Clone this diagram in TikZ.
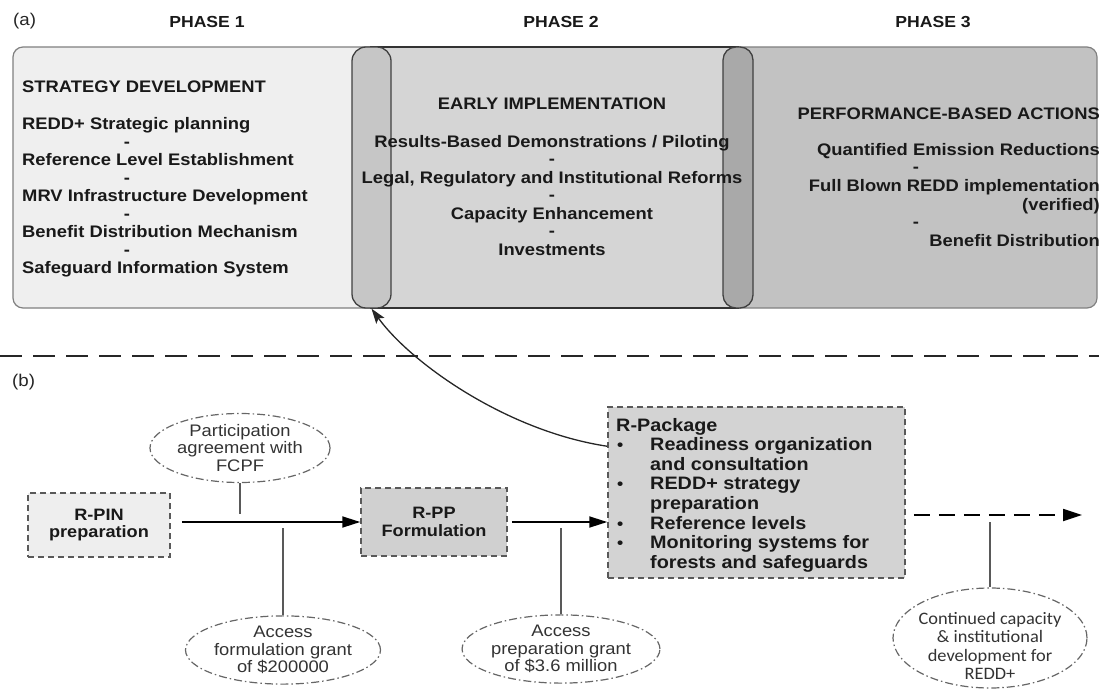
\documentclass[tikz,border=0pt]{standalone}
\usepackage{fontspec}
\setmainfont{Liberation Sans}[FakeStretch=1.1]
\newfontfamily\calfont{Carlito}[FakeStretch=1.05]
\usetikzlibrary{shapes.geometric,arrows.meta}
\definecolor{pone}{HTML}{EFEFEF}
\definecolor{ptwo}{HTML}{D5D5D5}
\definecolor{pthree}{HTML}{C2C2C2}
\definecolor{pillA}{HTML}{C6C6C6}
\definecolor{pillB}{HTML}{A9A9A9}
\definecolor{boxA}{HTML}{EEEEEE}
\definecolor{boxB}{HTML}{D0D0D0}
\definecolor{boxC}{HTML}{D3D3D3}
\begin{document}
\begin{tikzpicture}[x=1pt,y=-1pt,
  panel/.style={draw=black!50, line width=1.2pt, rounded corners=10pt, inner sep=0},
  pill/.style={draw=black!75, line width=1.3pt, rounded corners=14pt, inner sep=0, minimum height=261pt},
  t/.style={inner sep=0, font=\bfseries\fontsize{16.7}{18}\selectfont, text=black!90},
  lab/.style={inner sep=0, font=\fontsize{17}{18}\selectfont, text=black!85},
  phase/.style={inner sep=0, font=\bfseries\fontsize{16}{18}\selectfont, text=black!90},
  dbox/.style={draw=black!65, line width=1.5pt, dash pattern=on 6pt off 4pt, inner sep=0,
    align=center, font=\bfseries\fontsize{16.5}{17.5}\selectfont, text=black!90},
  rp/.style={inner sep=0, anchor=base west, font=\bfseries\fontsize{18}{20}\selectfont, text=black!90},
  bul/.style={inner sep=0, anchor=base west, font=\bfseries\fontsize{16}{20}\selectfont, text=black!90},
  ell/.style={ellipse, draw=black!60, line width=1.2pt, dash pattern=on 8pt off 3pt on 1.5pt off 3pt,
    inner sep=0, align=center, font=\fontsize{16.7}{17.8}\selectfont, text=black!80},
  arr/.style={line width=1.8pt, -{Triangle[length=18pt,width=11pt]}},
  tick/.style={draw=black!65, line width=1.5pt}
]
\useasboundingbox (0,0) rectangle (1099,690);

% ---------- panel (a) ----------
\node[panel, fill=pthree, minimum width=397pt, minimum height=261pt] (ph3) at (898.5,177.5) {};
\node[panel, fill=pone, minimum width=387pt, minimum height=261pt] (ph1) at (206.5,177.5) {};
\node[draw=black!80, line width=1.5pt, fill=ptwo, inner sep=0, minimum width=367pt, minimum height=261pt] (ph2) at (554.5,177.5) {};
\node[pill, fill=pillA, minimum width=39pt] (lpill) at (371.5,177.5) {};
\node[pill, fill=pillB, minimum width=30pt, rounded corners=13pt] (rpill) at (738,177.5) {};

\node[lab, anchor=base west] (la) at (13,26) {(a)};
\node[phase, anchor=base] (h1) at (207,28) {PHASE 1};
\node[phase, anchor=base] (h2) at (561,28) {PHASE 2};
\node[phase, anchor=base] (h3) at (933,28) {PHASE 3};

% phase 1 text
\node[t, anchor=base west] (s1) at (22,93) {STRATEGY DEVELOPMENT};
\node[t, anchor=base west] (s2) at (22,129) {REDD+ Strategic planning};
\node[t, anchor=base west] (s3) at (22,165) {Reference Level Establishment};
\node[t, anchor=base west] (s4) at (22,201) {MRV Infrastructure Development};
\node[t, anchor=base west] (s5) at (22,237) {Benefit Distribution Mechanism};
\node[t, anchor=base west] (s6) at (22,273) {Safeguard Information System};
\node[t, anchor=base] (d1) at (127,147) {-};
\node[t, anchor=base] (d2) at (127,183) {-};
\node[t, anchor=base] (d3) at (127,219) {-};
\node[t, anchor=base] (d4) at (127,255) {-};

% phase 2 text
\node[t, anchor=base] (e1) at (552,110) {EARLY IMPLEMENTATION};
\node[t, anchor=base] (e2) at (552,147) {Results-Based Demonstrations / Piloting};
\node[t, anchor=base] (e3) at (552,164) {-};
\node[t, anchor=base] (e4) at (552,183) {Legal, Regulatory and Institutional Reforms};
\node[t, anchor=base] (e5) at (552,200) {-};
\node[t, anchor=base] (e6) at (552,219) {Capacity Enhancement};
\node[t, anchor=base] (e7) at (552,236) {-};
\node[t, anchor=base] (e8) at (552,255) {Investments};

% phase 3 text
\node[t, anchor=base east] (f1) at (1100,119) {PERFORMANCE-BASED ACTIONS};
\node[t, anchor=base east] (f2) at (1100,155) {Quantified Emission Reductions};
\node[t, anchor=base] (f3) at (916,172) {-};
\node[t, anchor=base east] (f4) at (1100,191) {Full Blown REDD implementation};
\node[t, anchor=base east] (f5) at (1100,210) {(verified)};
\node[t, anchor=base] (f6) at (916,227) {-};
\node[t, anchor=base east] (f7) at (1100,246) {Benefit Distribution};

% separator
\draw[black!85, line width=2pt, dash pattern=on 22pt off 11pt] (0,356) -- (1099,356);

% ---------- panel (b) ----------
\node[lab, anchor=base west] (lb) at (12,386) {(b)};

\node[dbox, fill=boxA, minimum width=142pt, minimum height=64pt] (rpin) at (99,525) {R-PIN\\preparation};
\node[dbox, fill=boxB, minimum width=146pt, minimum height=68pt] (rpp) at (434,522) {R-PP\\Formulation};
\node[dbox, fill=boxC, minimum width=297pt, minimum height=171pt] (rpack) at (756.5,492.5) {};

\node[rp] (r1) at (616,431) {R-Package};
\node[rp] (r2) at (650,450.6) {Readiness organization};
\node[rp] (r3) at (650,470.2) {and consultation};
\node[rp] (r4) at (650,489.8) {REDD+ strategy};
\node[rp] (r5) at (650,509.4) {preparation};
\node[rp] (r6) at (650,529) {Reference levels};
\node[rp] (r7) at (650,548.6) {Monitoring systems for};
\node[rp] (r8) at (650,568.2) {forests and safeguards};
\node[bul] (b1) at (617,450.6) {\textbullet};
\node[bul] (b2) at (617,489.8) {\textbullet};
\node[bul] (b3) at (617,529) {\textbullet};
\node[bul] (b4) at (617,548.6) {\textbullet};

\node[ell, minimum width=180pt, minimum height=69pt] (part) at (240,448) {Participation\\agreement with\\FCPF};
\node[ell, minimum width=168pt, minimum height=66pt] (accf) at (283,650) {Access\\formulation grant\\of \$200000};
\node[ell, minimum width=174pt, minimum height=68pt] (accp) at (561,649) {Access\\preparation grant\\of \$3.6 million};
\node[ell, minimum width=194pt, minimum height=100pt] (cont) at (990,638) {};
\node[inner sep=0, align=center, font=\calfont\fontsize{17.5}{18.5}\selectfont, text=black!80] (contt) at (990,646)
  {Continued capacity\\\& institutional\\development for\\REDD+};

% main flow
\draw[arr, shorten <=11pt] (rpin.east |- rpp.west) -- (rpp.west);
\draw[arr, shorten <=4pt] (rpp.east) -- (rpack.west |- rpp.east);
\coordinate (endp) at (1082,515);
\draw[line width=1.8pt, dash pattern=on 16pt off 9pt, -{Triangle[length=19pt,width=12pt]}, shorten <=8pt] (rpack.east |- endp) -- (endp);

% ticks
\coordinate (c1) at (240,514);
\coordinate (c2) at (283,528);
\coordinate (c3) at (561,528);
\coordinate (c4) at (990,522);
\draw[tick] (part.south) -- (c1);
\draw[tick] (c2) -- (accf.north);
\draw[tick] (c3) -- (accp.north);
\draw[tick] (c4) -- (cont.north);

% curved arrow to phase 2 start
\draw[line width=1.3pt, black!85, -{Stealth[length=15pt,width=10pt,inset=3pt]}]
  ([yshift=-40pt]rpack.north west) .. controls +(-100,-15) and +(40,55) .. (lpill.south);
\end{tikzpicture}
\end{document}
